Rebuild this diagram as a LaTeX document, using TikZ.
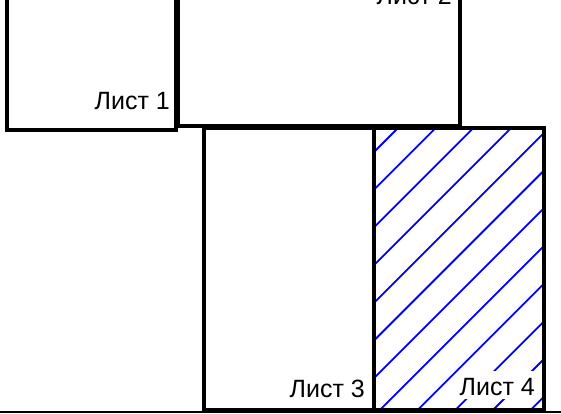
\documentclass[tikz,border=0pt]{standalone}
\usepackage{fontspec}
\setmainfont{Liberation Sans}
\tikzset{
  sheet/.style={line width=4.5pt, line join=miter},
  hatchline/.style={blue, line width=1.8pt},
  lbl/.style={font=\fontsize{25}{29}\selectfont, inner sep=2pt, anchor=base east, text height=22pt, text depth=2pt},
  groundline/.style={line width=2pt}
}
\begin{document}
\begin{tikzpicture}[x=1pt,y=-1pt]
\useasboundingbox (0,0) rectangle (561,414);
\clip (0,0) rectangle (561,414);
% hatching of sheet 4
\begin{scope}
  \clip (374,128) rectangle (544,410);
  \foreach \k in {-2,...,12}{
    \pgfmathsetmacro\cc{526+37.7*\k}
    \draw[hatchline] ({\cc-450},450) -- ({\cc-100},100);
  }
\end{scope}
% labels
\node[lbl] (l1) at (172,110) {Лист 1};
\node[lbl] (l2) at (454,5) {Лист 2};
\node[lbl] (l3) at (367,397) {Лист 3};
\node[lbl, fill=white] (l4) at (537,395) {Лист 4};
% sheets
\draw[sheet] (7,-60) rectangle (176,130);
\draw[sheet] (178,-60) rectangle (460,126);
\draw[sheet] (204,128) rectangle (374,410);
\draw[sheet] (374,128) rectangle (544,410);
% ground line
\coordinate (g0) at (0,412);
\coordinate (g1) at (561,412);
\draw[groundline] (g0) -- (g1);
\end{tikzpicture}
\end{document}
